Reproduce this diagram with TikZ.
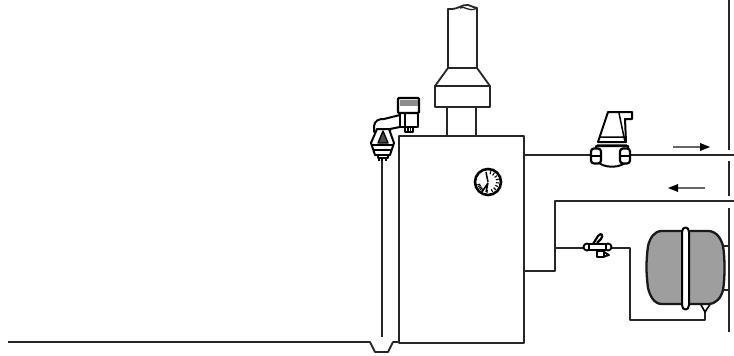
\documentclass[tikz,border=0pt]{standalone}
\begin{document}
\begin{tikzpicture}[x=1pt,y=-1pt,line join=round,
  pipe/.style={draw=black!85,line width=1.8pt},
  part/.style={draw=black,line width=2pt,fill=white},
  tankfill/.style={draw=black!90,line width=2.3pt,fill=black!38},
  flow/.style={draw=black!60,line width=1.1pt}]
\useasboundingbox (0,0) rectangle (734,356);
\definecolor{gr}{gray}{0.55}
% floor and drain
\draw[pipe] (8,342) -- (370,342) -- (375,352) -- (388,352) -- (393,342) -- (523,342);
% boiler
\node[draw=black!85,line width=1.8pt,fill=white,minimum width=125pt,minimum height=207pt,inner sep=0pt,anchor=north west] (boiler) at (398,135) {};
% flue
\draw[pipe] (447,107) -- (447,135) (476,107) -- (476,135);
\draw[pipe,fill=white] (435,86) rectangle (490,107);
\draw[pipe] (435,86) -- (448,68) -- (477,68) -- (490,86);
\draw[pipe] (448,68) -- (448,9) .. controls (458,10) and (462,4) .. (468,5) .. controls (472,6) and (474,8) .. (477,8) -- (477,68);
\draw[pipe,line width=1.3pt] (460,8) .. controls (465,5) and (468,13) .. (477,8);
% gauge
\node[circle,draw=black,line width=2.6pt,fill=white,minimum size=26pt,inner sep=0pt] (gauge) at (488,182) {};
\foreach \a in {-75,-55,-35,-15,5,25,45,65,95,125,135,145,155,165}
  \draw[black,line width=1.1pt] (488,182) ++(\a:8) -- ++(\a:3);
\draw[black,line width=1.5pt] (488,182) -- (486,172) (488,183) -- (482,192) (488,183) -- (486,192);
% supply pipe and valve
\coordinate (supplyend) at (734,155);
\draw[pipe] (523,155) -- (supplyend);
\draw[part] (598,142) -- (608,112) -- (632,112) -- (632,119) -- (625,119) -- (626,142) -- cycle;
\draw[black,line width=1.5pt] (619,113) -- (625,142) (599,137) -- (625,137) (597,145) -- (627,145);
\draw[part] (596,146) -- (628,146) -- (628,160) .. controls (622,169) and (602,169) .. (596,160) -- cycle;
\node[draw=black,line width=2.2pt,fill=white,rounded corners=3pt,minimum width=10pt,minimum height=15pt,inner sep=0pt] (v1) at (596,156) {};
\node[draw=black,line width=2.2pt,fill=white,rounded corners=3pt,minimum width=10pt,minimum height=15pt,inner sep=0pt] (v2) at (625,156) {};
\draw[black,line width=1.3pt] (591,156) -- (601,156) (620,156) -- (630,156);
% flow arrows
\coordinate (fa1) at (673,147); \coordinate (fb1) at (700,147);
\draw[flow] (fa1) -- (fb1);
\fill[black] (700,143) -- (710,147) -- (700,151) -- cycle;
\coordinate (fa2) at (705,188); \coordinate (fb2) at (678,188);
\draw[flow] (fa2) -- (fb2);
\fill[black] (678,184) -- (668,188) -- (678,192) -- cycle;
% right riser
\draw[pipe] (729,0) -- (729,150) (729,161) -- (729,196) (729,208) -- (729,332);
% return
\draw[pipe] (523,271) -- (555,271) -- (555,201) -- (734,201);
\draw[pipe] (555,248) -- (630,248) -- (630,320) -- (705,320) -- (705,312);
% small valve
\node[circle,draw=black,line width=1.8pt,fill=white,inner sep=0pt,minimum size=7pt] (s1) at (587,247) {};
\node[circle,draw=black,line width=1.8pt,fill=white,inner sep=0pt,minimum size=7pt] (s2) at (608,247) {};
\draw[part,line width=1.6pt] (589,244) -- (606,244) -- (606,250) -- (589,250) -- cycle;
\draw[black,line width=2.2pt] (593,244) -- (598,236) .. controls (601,232) and (604,235) .. (601,239) -- (597,243);
\draw[part,line width=1.8pt] (597,251) rectangle (604,257);
\draw[black,line width=1.8pt] (604,252) -- (609,255) -- (603,257);
% tank
\draw[black,line width=1.6pt] (705,312) -- (700,303) -- (711,303) -- cycle;
\draw[pipe] (722,246) -- (729,246) (722,290) -- (729,290);
\draw[tankfill] (662,231) -- (708,231) .. controls (716,231) and (721,238) .. (723,246)
  .. controls (725,258) and (725,278) .. (723,290) .. controls (721,298) and (716,304) .. (708,304)
  -- (662,304) .. controls (654,304) and (650,296) .. (648,288) .. controls (646,272) and (646,262) .. (648,246)
  .. controls (650,238) and (654,231) .. (662,231) -- cycle;
\draw[part,line width=2pt] (682,232) .. controls (682,226) and (689,226) .. (689,232) -- (689,305) .. controls (689,311) and (682,311) .. (682,305) -- cycle;
% vent
\draw[pipe] (382,160) -- (382,337);
\draw[part] (374,132) -- (374,126) .. controls (375,120) and (379,119) .. (384,119) -- (400,115) -- (400,127) -- (390,129) -- (390,132) -- cycle;
\draw[part] (371,143) -- (377,129) -- (389,129) -- (394,143) -- (390,155) -- (375,155) -- cycle;
\draw[black,line width=1.4pt,fill=black!70] (383,131) -- (378,143) -- (388,143) -- cycle;
\draw[black,line width=1.5pt] (372,145) -- (393,145) (374,150) -- (391,150);
\draw[part] (378,155) rectangle (388,158);
\draw[black,line width=1.5pt] (379,158) -- (379,161) (382,158) -- (382,161) (386,158) -- (386,161);
\draw[part] (400,112) rectangle (418,127);
\draw[black,line width=1.2pt] (405,114) -- (405,126);
\draw[part] (405,127) rectangle (413,132);
\draw[black,line width=1.3pt] (408,127) -- (408,132) (410.5,127) -- (410.5,132);
\draw[line width=2.2pt,draw=black,fill=white,rounded corners=1pt] (398,98) rectangle (419,113);
\fill[gr] (399.5,100) rectangle (417.5,106);
\end{tikzpicture}
\end{document}
